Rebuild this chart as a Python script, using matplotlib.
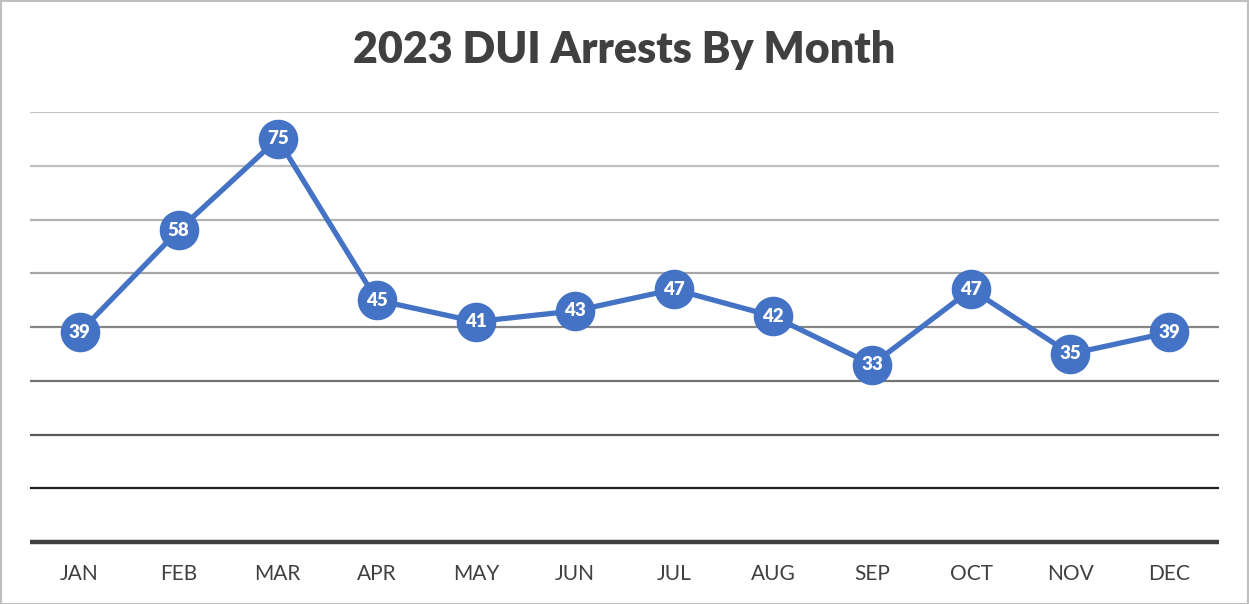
import matplotlib.pyplot as plt
from matplotlib.patches import Rectangle

months = ["JAN", "FEB", "MAR", "APR", "MAY", "JUN", "JUL", "AUG", "SEP", "OCT", "NOV", "DEC"]
arrests = [39, 58, 75, 45, 41, 43, 47, 42, 33, 47, 35, 39]
grid_vals = [10, 20, 30, 40, 50, 60, 70, 80]
grid_colors = ["#1f1f1f", "#595959", "#737373", "#858585", "#a6a6a6", "#b3b3b3", "#bfbfbf", "#c6c6c6"]

fig = plt.figure(figsize=(12.49, 6.04), dpi=100)
ax = fig.add_axes([30 / 1249, 62 / 604, 1189 / 1249, 430 / 604])

for v, c in zip(grid_vals, grid_colors):
    ax.axhline(v, color=c, lw=1.6, zorder=1)
ax.axhline(0, color="#404040", lw=3.2, zorder=1, clip_on=False, solid_capstyle="butt")

x = list(range(len(months)))
ax.plot(x, arrests, color="#4472C4", lw=3.8, marker="o", ms=27.5,
        markerfacecolor="#4472C4", markeredgecolor="#4472C4", zorder=3)
for xi, v in zip(x, arrests):
    ax.text(xi, v, str(v), ha="center", va="center", color="white",
            fontsize=13.5, fontweight="heavy", family="Lato", zorder=4)

ax.set_xlim(-0.5, 11.5)
ax.set_ylim(0, 80)
ax.set_xticks(x)
ax.set_xticklabels(months, fontsize=15, color="#404040", family="Lato")
ax.tick_params(axis="x", length=0, pad=16)
ax.set_yticks([])
for s in ax.spines.values():
    s.set_visible(False)

fig.text(0.5, 1 - 50 / 604, "2023 DUI Arrests By Month", ha="center", va="center",
         fontsize=31, fontweight="heavy", color="#404040", family="Lato")

fig.patches.append(Rectangle((0.5 / 1249, 0.5 / 604), 1 - 1.5 / 1249, 1 - 1.5 / 604,
                             transform=fig.transFigure, fill=False,
                             edgecolor="#bfbfbf", lw=1.5))

fig.savefig("out.png", dpi=100)
